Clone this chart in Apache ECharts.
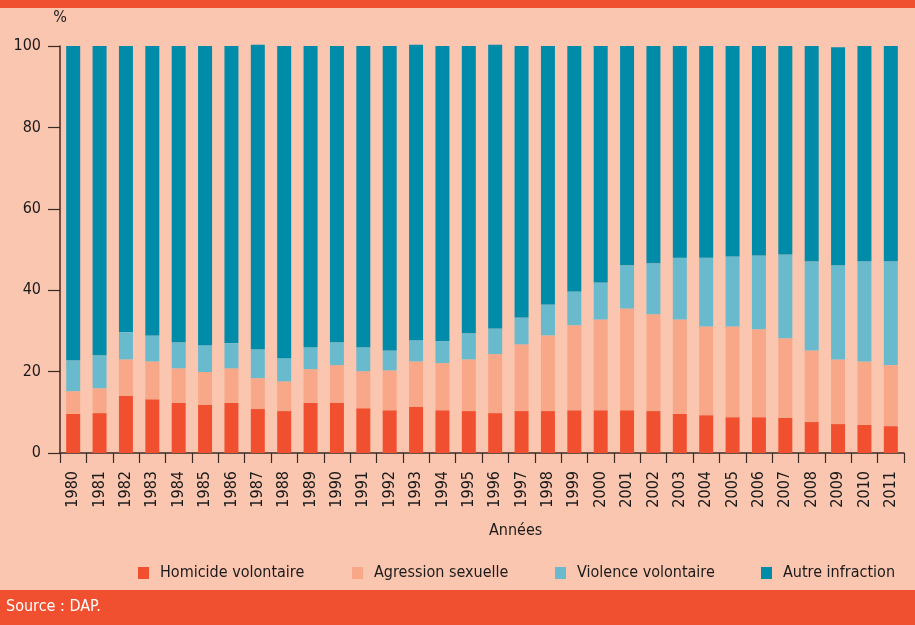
<!DOCTYPE html>
<html>
<head>
<meta charset="utf-8">
<script src="https://cdn.jsdelivr.net/npm/echarts@6/dist/echarts.min.js"></script>
<style>
html,body{margin:0;padding:0;background:#FBC6B0;}
#c{width:915px;height:625px;}
</style>
</head>
<body>
<div id="c"></div>
<script>
const years = ['1980','1981','1982','1983','1984','1985','1986','1987','1988','1989','1990','1991','1992','1993','1994','1995','1996','1997','1998','1999','2000','2001','2002','2003','2004','2005','2006','2007','2008','2009','2010','2011'];
const homicide = [9.6,9.8,14.0,13.2,12.3,11.8,12.3,10.8,10.3,12.3,12.3,11.0,10.5,11.3,10.5,10.3,9.8,10.3,10.3,10.5,10.5,10.5,10.3,9.6,9.3,8.8,8.8,8.6,7.6,7.1,6.9,6.6];
const agression = [5.6,6.1,9.0,9.3,8.5,8.1,8.5,7.6,7.3,8.3,9.3,9.1,9.8,11.2,11.6,12.7,14.5,16.4,18.6,20.9,22.3,25.0,23.8,23.2,21.8,22.3,21.6,19.6,17.6,15.9,15.6,15.0];
const violence = [7.6,8.1,6.7,6.4,6.4,6.6,6.2,7.1,5.7,5.4,5.6,5.9,4.9,5.2,5.4,6.4,6.3,6.6,7.6,8.3,9.1,10.6,12.5,15.2,16.9,17.2,18.1,20.6,21.9,23.1,24.6,25.5];
const autre = [77.2,76.0,70.3,71.1,72.8,73.5,73.0,74.8,76.7,74.0,72.8,74.0,74.8,72.6,72.5,70.6,69.7,66.7,63.5,60.3,58.1,53.9,53.4,52.0,52.0,51.7,51.5,51.2,52.9,53.6,52.9,52.9];
const seriesNames = ['Homicide volontaire','Agression sexuelle','Violence volontaire','Autre infraction'];
const yTicks = [0,20,40,60,80,100];

const FONT = '"Liberation Sans Narrow","DejaVu Sans Condensed","Liberation Sans",sans-serif';
const colors = ['#F0502F','#F8A889','#6ABACD','#008BA9'];
const axisColor = '#3b2a24';
const dataArr = [homicide, agression, violence, autre];

const chart = echarts.init(document.getElementById('c'));
const legendLefts = [133, 347, 550, 756];
chart.setOption({
  backgroundColor: '#FBC6B0',
  animation: false,
  grid: {left: 60, right: 11, top: 46, bottom: 172, containLabel: false},
  legend: seriesNames.map((n, i) => ({
    data: [n], left: legendLefts[i], top: 560, itemWidth: 11, itemHeight: 12, itemGap: 10,
    icon: 'rect',
    textStyle: {fontFamily: FONT, fontSize: 16, color: '#1a1a1a', padding: [0,0,0,6]}
  })),
  xAxis: {
    type: 'category', data: years,
    axisLine: {lineStyle: {color: axisColor, width: 1.5}},
    axisTick: {show: true, length: 10, lineStyle: {color: axisColor, width: 1.2}},
    axisLabel: {rotate: 90, fontFamily: FONT, fontSize: 16, color: '#1a1a1a', margin: 18, interval: 0}
  },
  yAxis: {
    type: 'value', min: 0, max: 100, interval: 20,
    name: '%', nameLocation: 'end', nameGap: 20,
    nameTextStyle: {fontFamily: FONT, fontSize: 16, color: '#1a1a1a', align: 'center', padding: [0,0,0,0]},
    axisLine: {show: true, lineStyle: {color: axisColor, width: 1.5}},
    axisTick: {show: true, inside: false, length: 12, lineStyle: {color: axisColor, width: 1.2}},
    axisLabel: {fontFamily: FONT, fontSize: 16, color: '#1a1a1a', margin: 19,
      formatter: v => yTicks.includes(v) ? String(v) : ''},
    splitLine: {show: false}
  },
  series: seriesNames.map((n, i) => ({
    name: n, type: 'bar', stack: 'total', barWidth: 14, clip: false,
    itemStyle: {color: colors[i]},
    data: dataArr[i]
  })),
  graphic: [
    {type: 'rect', left: 0, top: 0, shape: {width: 915, height: 8}, style: {fill: '#F0502F'}},
    {type: 'rect', left: 0, top: 590, shape: {width: 915, height: 35}, style: {fill: '#F0502F'}},
    {type: 'text', left: 6, top: 599, style: {text: 'Source : DAP.', fill: '#ffffff', font: '16px ' + FONT}},
    {type: 'text', left: 489, top: 523, style: {text: 'Années', fill: '#1a1a1a', font: '16px ' + FONT}}
  ]
});
</script>
</body>
</html>
